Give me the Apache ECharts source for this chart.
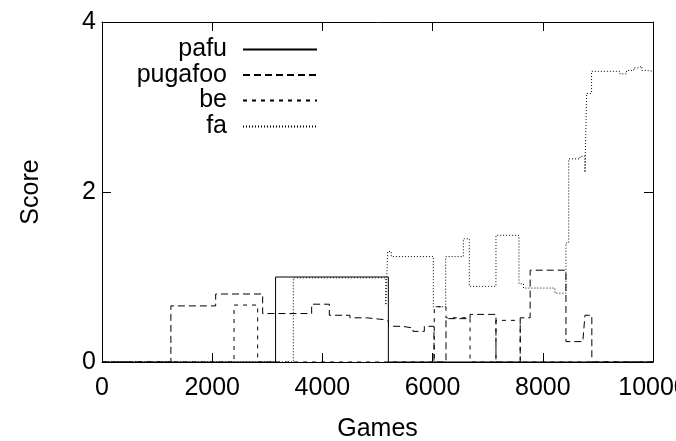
<!DOCTYPE html>
<html>
<head>
<meta charset="utf-8">
<script src="https://cdn.jsdelivr.net/npm/echarts@6/dist/echarts.min.js"></script>
<style>html,body{margin:0;padding:0;background:#fff}#c{width:676px;height:441px}</style>
</head>
<body>
<div id="c"></div>
<script>
// [games, score] step points (value holds until next point)
const pafu = [[0,0],[3150,1.0],[5197,0],[10000,0]];
const pugafoo = [[0,0],[1250,0.66],[2063,0.80],[2916,0.57],[3805,0.68],[4126,0.55],[4500,0.52],[4800,0.50],[5100,0.48],[5200,0.42],[5450,0.40],[5645,0.36],[5850,0.42],[6025,0],[6243,0.51],[6680,0.56],[7150,0],[7590,0.52],[7770,1.08],[8420,0.24],[8730,0.27],[8765,0.55],[8890,0],[10000,0]];
const be = [[0,0],[2396,0.67],[2825,0],[6030,0.65],[6243,0.52],[6680,0],[7150,0.49],[7590,0],[10000,0]];
const fa = [[0,0],[3472,0.99],[5150,0.67],[5185,1.30],[5250,1.24],[6013,0.65],[6237,1.24],[6558,1.45],[6666,0.89],[7150,1.49],[7568,0.92],[7650,0.87],[8220,0.81],[8420,1.40],[8470,2.39],[8675,2.42],[8765,2.23],[8795,3.16],[8885,3.42],[9400,3.39],[9520,3.43],[9650,3.46],[9735,3.48],[9800,3.43],[9885,3.42],[10000,3.42]];
const seriesNames = ['pafu','pugafoo','be','fa'];
const xTicks = {min:0, max:10000, interval:2000};
const yTicks = {min:0, max:4, interval:2};

const FONT = 'Liberation Sans';
const FS = 25;
const dashes = ['solid',[7,4],[4,5],[1,2]];
const datas = [pafu,pugafoo,be,fa];
const legendTops = [37,62.5,88,114];

const chart = echarts.init(document.getElementById('c'));
const axisCommon = {
  axisLine:{show:true,onZero:false,lineStyle:{color:'#000',width:1}},
  axisTick:{show:true,inside:true,length:9,lineStyle:{color:'#000',width:1}},
  splitLine:{show:false}
};
chart.setOption({
  animation:false,
  backgroundColor:'#fff',
  textStyle:{fontFamily:FONT},
  grid:{left:102,right:23,top:22,bottom:79,containLabel:false,outerBoundsMode:'none'},
  xAxis:[
    Object.assign({type:'value',position:'bottom',min:xTicks.min,max:xTicks.max,interval:xTicks.interval,
      name:'Games',nameLocation:'middle',nameGap:55,nameTextStyle:{fontFamily:FONT,fontSize:FS,color:'#000'},
      axisLabel:{fontFamily:FONT,fontSize:FS,color:'#000',margin:14,formatter:v=>String(v)}},axisCommon),
    Object.assign({type:'value',position:'top',min:xTicks.min,max:xTicks.max,interval:xTicks.interval,
      axisLabel:{show:false}},axisCommon)
  ],
  yAxis:[
    Object.assign({type:'value',position:'left',min:yTicks.min,max:yTicks.max,interval:yTicks.interval,
      name:'Score',nameLocation:'middle',nameGap:58,nameRotate:90,nameTextStyle:{fontFamily:FONT,fontSize:FS,color:'#000'},
      axisLabel:{fontFamily:FONT,fontSize:FS,color:'#000',margin:6,formatter:v=>String(v)}},axisCommon),
    Object.assign({type:'value',position:'right',min:yTicks.min,max:yTicks.max,interval:yTicks.interval,
      axisLabel:{show:false}},axisCommon)
  ],
  legend: seriesNames.map((n,i)=>({
    data:[n], orient:'horizontal', align:'right', right:358, top:legendTops[i], padding:0,
    itemWidth:74, itemHeight:14, selectedMode:false,
    itemStyle:{opacity:0},
    textStyle:{fontFamily:FONT,fontSize:FS,color:'#000',padding:[0,11,0,0]}
  })),
  series: seriesNames.map((n,i)=>({
    name:n, type:'line', step:'end', data:datas[i], symbol:'none', silent:true,
    lineStyle:{color:'#000',width:1,type:dashes[i]},
    itemStyle:{color:'#000'}, z:10-i
  }))
});
</script>
</body>
</html>
